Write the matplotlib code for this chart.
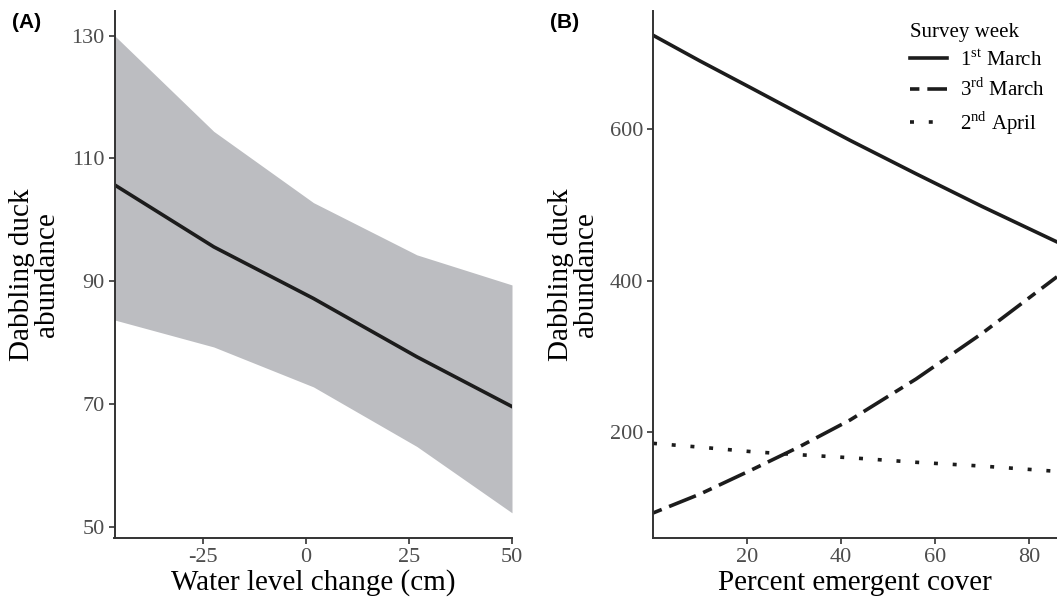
import numpy as np
import matplotlib
matplotlib.use("Agg")
import matplotlib.pyplot as plt

plt.rcParams['font.family'] = ['Liberation Serif', 'DejaVu Serif']
plt.rcParams['mathtext.fontset'] = 'custom'
plt.rcParams['mathtext.rm'] = 'Liberation Serif'
plt.rcParams['axes.unicode_minus'] = False

# panel A: water level change
water_x = [-46.5, -22.4, 1.8, 26.9, 50]
water_fit = [105.7, 95.6, 87.2, 77.7, 69.6]
water_lo = [83.7, 79.3, 72.8, 63.1, 52.3]
water_hi = [130.0, 114.4, 102.8, 94.3, 89.4]

# panel B: emergent cover by survey week
cover_x = [0, 10, 21, 31, 42, 56, 70, 86]
week_labels = [r'1$^{\mathrm{st}}$ March', r'3$^{\mathrm{rd}}$ March', r'2$^{\mathrm{nd}}$ April']
march1 = [724, 690, 654, 621, 585, 541, 498, 451]
march3 = [93, 118, 150, 180, 216, 270, 330, 405]
april2 = [185, 180, 174, 170, 166, 160, 155, 148]

line_col = '#1c1c1c'
spine_col = '#333333'
tick_col = '#4d4d4d'
lw = 2.6

fig = plt.figure(figsize=(10.57, 6.05), dpi=100)
axA = fig.add_axes([114.5 / 1057, 67 / 605, (512 - 114.5) / 1057, (538 - 11) / 605])
axB = fig.add_axes([653 / 1057, 67 / 605, (1057 - 653) / 1057, (538 - 11) / 605])

for ax in (axA, axB):
    for s in ('top', 'right'):
        ax.spines[s].set_visible(False)
    for s in ('left', 'bottom'):
        ax.spines[s].set_color(spine_col)
        ax.spines[s].set_linewidth(1.4)
    ax.tick_params(colors=spine_col, labelcolor=tick_col, labelsize=16, length=4, width=1.2, pad=3)
    ax.set_ylabel('Dabbling duck\nabundance', fontsize=21, linespacing=0.95, labelpad=8)

axA.fill_between(water_x, water_lo, water_hi, color='#bcbdc1', lw=0)
axA.plot(water_x, water_fit, color=line_col, lw=lw)
axA.set_xlim(-46.5, 50)
axA.set_ylim(48.2, 134)
axA.set_xticks([-25, 0, 25, 50])
axA.set_yticks([50, 70, 90, 110, 130])
axA.set_xlabel('Water level change (cm)', fontsize=21, labelpad=2)

styles = ['-', (0, (2.6, 2.2, 8, 2.2)), (0, (1.1, 4.1))]
for ys, lab, st in zip([march1, march3, april2], week_labels, styles):
    axB.plot(cover_x, ys, color=line_col, lw=lw, linestyle=st, label=lab)
axB.set_xlim(0, 86)
axB.set_ylim(60, 756)
axB.set_xticks([20, 40, 60, 80])
axB.set_yticks([200, 400, 600])
axB.set_xlabel('Percent emergent cover', fontsize=21, labelpad=2)

leg = axB.legend(title='Survey week', loc='upper left', bbox_to_anchor=(895 / 1057, 1 - 8 / 605),
                 bbox_transform=fig.transFigure, frameon=False, fontsize=15,
                 title_fontsize=15, handlelength=1.8, handletextpad=0.6,
                 labelspacing=0.38, alignment='left', borderaxespad=0.3)

fig.text(12 / 1057, 1 - 22 / 605, '(A)', fontsize=15, fontweight='bold',
         family='Liberation Sans', va='center', ha='left')
fig.text(550 / 1057, 1 - 22 / 605, '(B)', fontsize=15, fontweight='bold',
         family='Liberation Sans', va='center', ha='left')

fig.savefig('out.png', dpi=100)
